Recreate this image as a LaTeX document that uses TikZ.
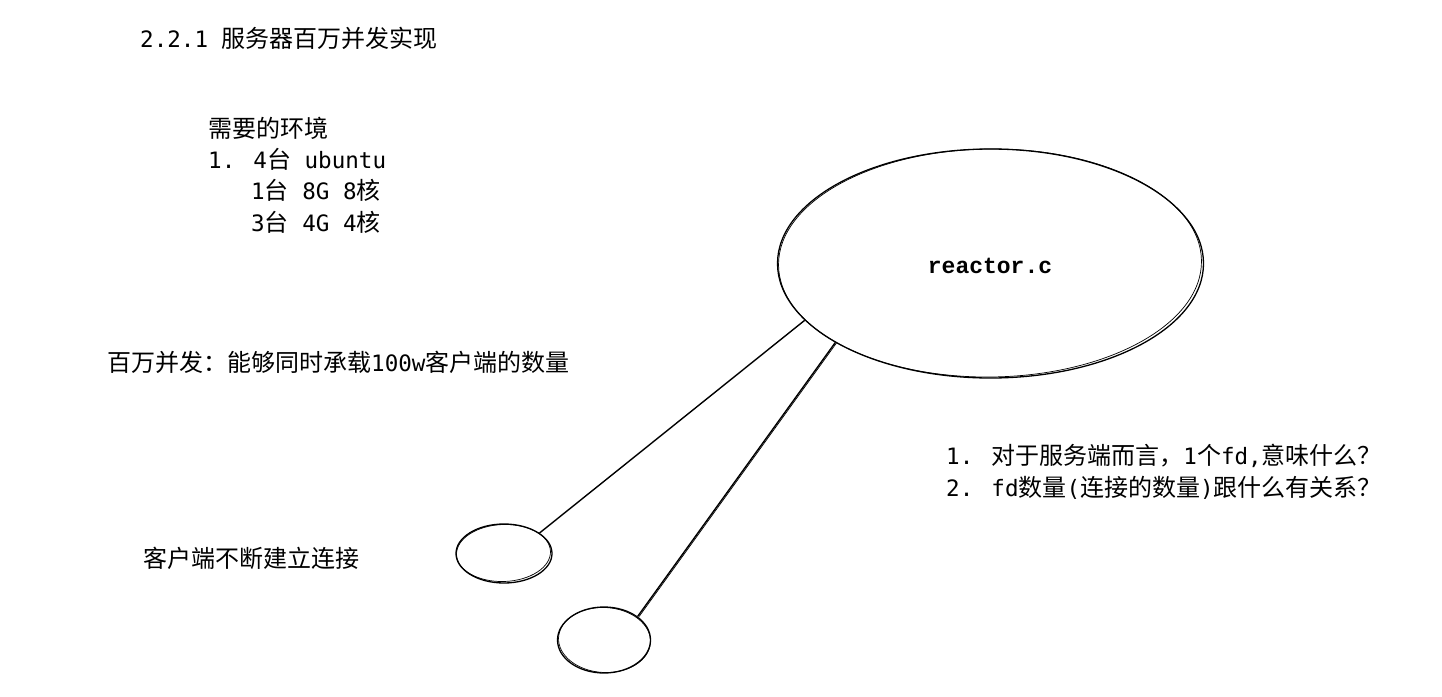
\documentclass[tikz,border=0pt]{standalone}
\usepackage{fontspec}
\setmainfont{Noto Sans CJK SC}
\newfontfamily\monofnt[Scale=0.94]{DejaVu Sans Mono}
\newfontfamily\codefnt{Liberation Mono}
\usetikzlibrary{shapes.geometric}
\newcommand{\mm}[1]{{\monofnt #1}}
\begin{document}
\begin{tikzpicture}[x=1pt,y=-1pt,
  txt/.style={anchor=base west, inner sep=0pt, text=black, font=\fontsize{24}{30}\selectfont},
  blob/.style={ellipse, draw=black, line width=1.3pt, inner sep=0pt},
  sketch/.style={draw=black, line width=0.7pt},
  link/.style={draw=black, line width=1.4pt}]
\useasboundingbox (0,0) rectangle (1442,696);
\fill[white] (0,0) rectangle (1442,696);

% texts
\node[txt] (title) at (140,47) {\mm{2.2.1 }服务器百万并发实现};
\node[txt] (env) at (208,137) {需要的环境};
\node[txt] (env1) at (208,168) {\mm{1. 4}台\mm{ ubuntu}};
\node[txt] (env2) at (251,199) {\mm{1}台\mm{ 8G 8}核};
\node[txt] (env3) at (251,231) {\mm{3}台\mm{ 4G 4}核};
\node[txt] (million) at (107,371) {百万并发：能够同时承载\mm{100w}客户端的数量};
\node[txt] (q1) at (946,464) {\mm{1. }对于服务端而言，\mm{1}个\mm{fd,}意味什么？};
\node[txt] (q2) at (946,496) {\mm{2. fd}数量\mm{(}连接的数量\mm{)}跟什么有关系？};
\node[txt] (conn) at (143,567) {客户端不断建立连接};

% server
\node[blob, minimum width=426pt, minimum height=229pt] (srv) at (990.5,263.5) {};
\draw[sketch] (990,263) ellipse [x radius=211.5pt, y radius=114pt, rotate=0.6];
\node[anchor=base, inner sep=0pt, font=\codefnt\bfseries\fontsize{23}{28}\selectfont] (lbl) at (990,273) {reactor.c};

% clients
\node[blob, minimum width=96pt, minimum height=59pt] (c1) at (504,553.5) {};
\draw[sketch] (503.5,553) ellipse [x radius=47pt, y radius=28.5pt, rotate=2];
\node[blob, minimum width=93pt, minimum height=66pt] (c2) at (604,640) {};
\draw[sketch] (604.5,640) ellipse [x radius=46pt, y radius=32.5pt, rotate=-3];

% connectors
\draw[link] (srv.197) -- (c1.30);
\draw[link] (srv.207) -- (c2.35);
\draw[sketch] ([xshift=1.5pt]srv.207) -- ([xshift=1.5pt]c2.35);
\end{tikzpicture}
\end{document}
